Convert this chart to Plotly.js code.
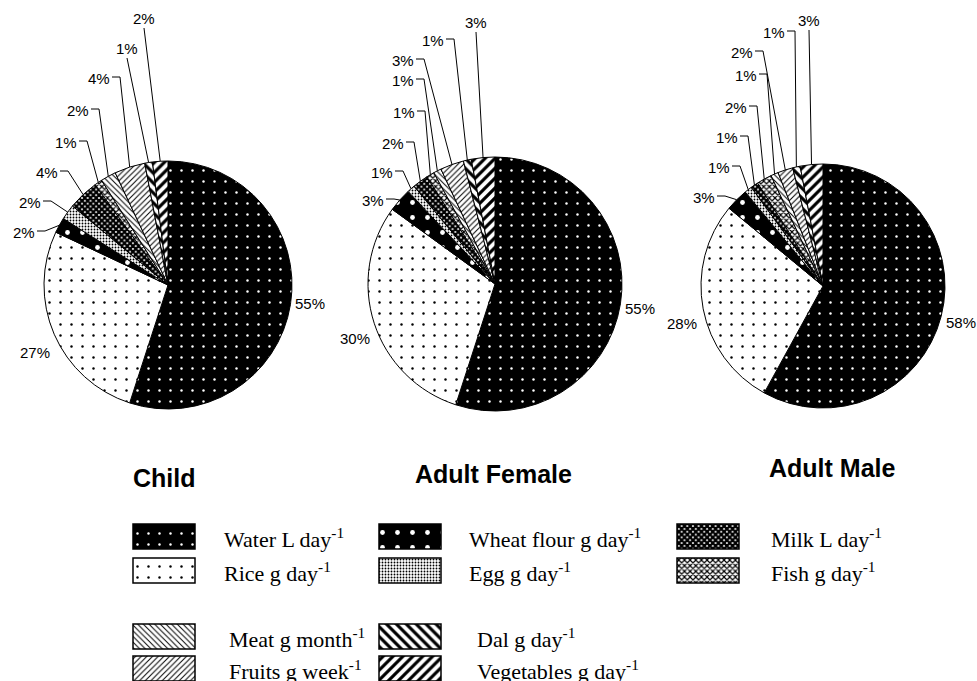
<!DOCTYPE html>
<html><head><meta charset="utf-8">
<script src="https://cdn.plot.ly/plotly-3.0.1.min.js"></script>
<style>html,body{margin:0;padding:0;background:#fff}#chart{width:977px;height:681px}</style>
</head><body><div id="chart"></div>
<script>
// ---- data ----
const categories = ["Water L day", "Rice g day", "Wheat flour g day", "Egg g day", "Milk L day",
                    "Fish g day", "Meat g month", "Fruits g week", "Dal g day", "Vegetables g day"];
const childValues  = [55, 27, 2, 2, 4, 1, 2, 4, 1, 2];
const femaleValues = [55, 30, 3, 1, 2, 1, 1, 3, 1, 3];
const maleValues   = [58, 28, 3, 1, 1, 2, 1, 2, 1, 3];
const groupNames   = ["Child", "Adult Female", "Adult Male"];

// ---- styles ----
const patShape = [".", ".", ".", ".", "x", "x", "\\", "/", "\\", "/"];
const patBg    = ["#000", "#fff", "#000", "#fff", "#fff", "#fff", "#fff", "#fff", "#fff", "#fff"];
const patFg    = ["#fff", "#000", "#fff", "#000", "#000", "#000", "#000", "#000", "#000", "#000"];
const patSize  = [11, 11, 15, 3, 4, 4, 4, 4, 7, 7];
const patSolid = [0.04, 0.04, 0.08, 0.3, 0.8, 0.5, 0.25, 0.25, 0.45, 0.45];

const W = 977, H = 681;
// pie geometry in pixels: centre x, centre y (from top), radius
const pieGeom = [[168, 285, 124], [495, 284, 127], [823, 286, 122]];
const titlePos = [[164, 478], [493, 474], [832, 468]];
// label placement (pixel centre of each percentage label, slice order)
const labelPos = [
  [[310, 303], [35, 352], [24, 232], [30, 202], [47, 172], [66, 142], [78, 110], [99, 78], [127, 48], [144, 18]],
  [[640, 308], [355, 338], [373, 200], [382, 172], [393, 143], [404, 112], [403, 80], [403, 60], [433, 40], [476, 22]],
  [[961, 322], [682, 323], [704, 197], [719, 167], [727, 137], [736, 107], [746, 75], [742, 52], [774, 32], [809, 20]]
];
// leader style per slice for each pie: 0 = none, 1 = side tick, 2 = from below
const leaderStyle = [
  [0, 0, 1, 1, 1, 1, 1, 1, 2, 2],
  [0, 0, 1, 1, 1, 1, 1, 1, 1, 2],
  [0, 0, 1, 1, 1, 1, 1, 1, 1, 2]
];

const LABEL_FONT = {family: "Liberation Sans, Arial", size: 15, color: "#000"};

function pieTrace(vals, g, name) {
  const [cx, cy, r] = g;
  return {
    type: "pie", name: name, labels: categories, values: vals,
    sort: false, direction: "clockwise", rotation: 0,
    textinfo: "none",
    marker: {colors: patBg, line: {color: "#000", width: 1},
      pattern: {shape: patShape, bgcolor: patBg, fgcolor: patFg, size: patSize,
                solidity: patSolid, fgopacity: 1}},
    domain: {x: [(cx - r) / W, (cx + r) / W], y: [(H - cy - r) / H, (H - cy + r) / H]},
    showlegend: false, hoverinfo: "label+percent"
  };
}

const allValues = [childValues, femaleValues, maleValues];
const traces = allValues.map((v, k) => pieTrace(v, pieGeom[k], groupNames[k]));

const annotations = [];
const shapes = [];

// percentage labels + leader lines, derived from the values
allValues.forEach((vals, k) => {
  const total = vals.reduce((a, b) => a + b, 0);
  const [cx, cy, r] = pieGeom[k];
  let cum = 0;
  vals.forEach((v, i) => {
    const mid = (cum + v / 2) / total * 2 * Math.PI;
    cum += v;
    const [lx, ly] = labelPos[k][i];
    annotations.push({
      xref: "x", yref: "y", x: lx, y: ly, xanchor: "center", yanchor: "middle",
      showarrow: false, text: Math.round(v / total * 100) + "%", font: LABEL_FONT
    });
    const rx = cx + r * Math.sin(mid), ry = cy - r * Math.cos(mid);
    const st = leaderStyle[k][i];
    let path = null;
    if (st === 1) {
      path = `M${lx + 13},${ly - 1} H${lx + 21} L${rx},${ry}`;
    } else if (st === 2) {
      path = `M${lx},${ly + 10} L${rx},${ry}`;
    }
    if (path) shapes.push({type: "path", xref: "x", yref: "y", path: path,
                           line: {color: "#000", width: 1}});
  });
});

// ---- hand-made legend (patterned swatches as bars) ----
const colLeft = [133, 379, 677];
const textLeft = [[222, 222, 227, 227], [467, 467, 475, 475], [769, 769, 769, 769]];
const rowTop = [524, 558, 624, 656];
const swW = 62, swH = 25;
categories.forEach((c, i) => {
  let col, row;
  if (i < 6) { col = Math.floor(i / 2); row = i % 2; }
  else { const j = i - 6; col = Math.floor(j / 2); row = 2 + j % 2; }
  traces.push({
    type: "bar", orientation: "h", x: [swW], y: [rowTop[row] + swH / 2], base: [colLeft[col]],
    width: swH, name: c,
    marker: {color: patBg[i], line: {color: "#000", width: 1.5},
      pattern: {shape: patShape[i], bgcolor: patBg[i], fgcolor: patFg[i], size: patSize[i],
                solidity: patSolid[i], fgopacity: 1, fillmode: "replace"}},
    hoverinfo: "skip", showlegend: false
  });
  annotations.push({
    xref: "x", yref: "y", x: textLeft[col][row], y: rowTop[row] + swH / 2 + 1,
    xanchor: "left", yanchor: "middle", showarrow: false,
    text: c + "<sup>-1</sup>",
    font: {family: "Liberation Serif, Times New Roman", size: 22, color: "#000"}
  });
});

groupNames.forEach((n, k) => {
  annotations.push({
    xref: "x", yref: "y", x: titlePos[k][0], y: titlePos[k][1],
    xanchor: "center", yanchor: "middle", showarrow: false, text: "<b>" + n + "</b>",
    font: {family: "Liberation Sans, Arial", size: 25, color: "#000"}
  });
});

const layout = {
  width: W, height: H, margin: {l: 0, r: 0, t: 0, b: 0},
  paper_bgcolor: "#fff", plot_bgcolor: "rgba(0,0,0,0)",
  xaxis: {range: [0, W], visible: false, fixedrange: true, domain: [0, 1]},
  yaxis: {range: [H, 0], visible: false, fixedrange: true, domain: [0, 1]},
  annotations: annotations, shapes: shapes, showlegend: false, barmode: "overlay"
};
Plotly.newPlot("chart", traces, layout, {displayModeBar: false, staticPlot: true});
</script></body></html>
